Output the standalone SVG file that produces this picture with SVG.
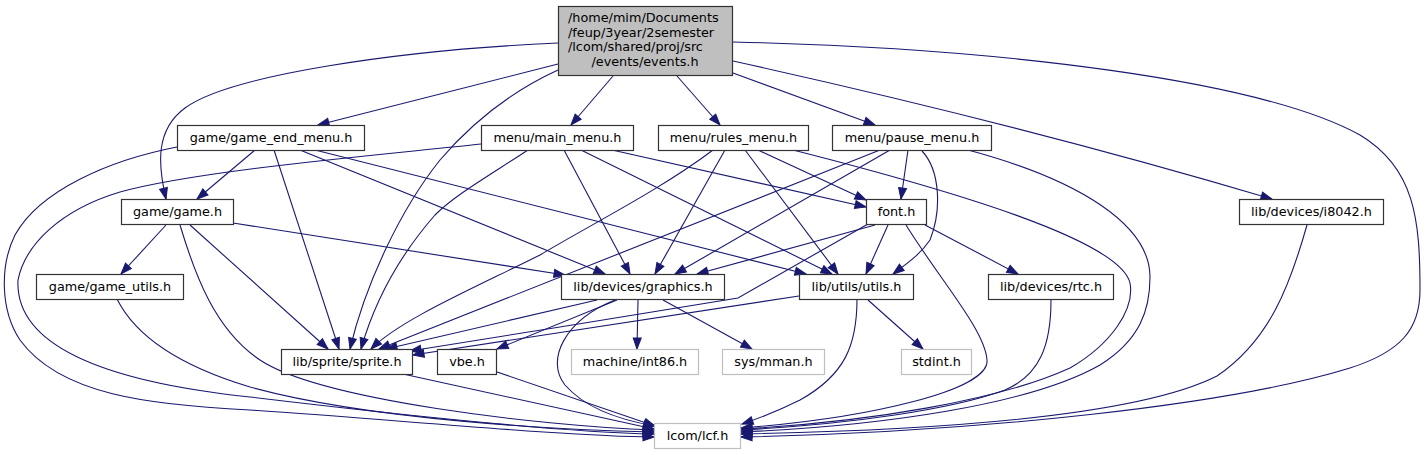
<svg xmlns="http://www.w3.org/2000/svg" width="1425" height="455" viewBox="0 0 1425 455">
<style>
text{font-family:"DejaVu Sans","Liberation Sans",sans-serif;font-size:12.8px;fill:#000;text-anchor:middle}
.n rect{fill:#fff;stroke:#333;stroke-width:1.2}
.m rect{fill:#bfbfbf;stroke:#333;stroke-width:1.2}
.x rect{fill:#fff;stroke:#bfbfbf;stroke-width:1.2}
#edges path{fill:none;stroke:#191970;stroke-width:1.1;marker-end:url(#a)}
</style>
<defs>
<marker id="a" markerUnits="userSpaceOnUse" markerWidth="13" markerHeight="10" viewBox="-1 -1 13 10" refX="11" refY="4" orient="auto">
<path d="M0,0 L11,4 L0,8 Z" fill="#191970" stroke="#191970" stroke-width="1"/>
</marker>
</defs>
<rect width="1425" height="455" fill="#fff"/>
<g id="edges">
<!-- events.h -->
<path d="M558,64 L318,125"/>
<path d="M613,76 L571,125"/>
<path d="M677,76 L720,125"/>
<path d="M733,73 L875,125"/>
<path d="M733,61 C910,100 1090,145 1272,199"/>
<path d="M733,42 C1000,48 1260,80 1360,135 C1415,168 1420,220 1420,290 C1420,330 1400,352 1350,368 C1230,405 980,432 741,437"/>
<path d="M558,43 C400,50 230,75 185,108 C155,130 158,165 166,199"/>
<path d="M558,70 C510,92 470,125 440,160 C400,210 365,285 350,349"/>
<!-- game_end_menu -->
<path d="M177,147 C110,160 40,190 15,235 C0,265 0,310 20,340 C60,395 150,405 250,410 C400,420 560,436 654,437"/>
<path d="M255,150 L197,199"/>
<path d="M274,150 L339,349"/>
<path d="M300,150 L605,274"/>
<path d="M315,150 L806,274"/>
<!-- main_menu -->
<path d="M481,144 C380,155 200,170 120,192 C60,210 25,245 18,280 C15,340 90,380 250,397 C400,415 560,432 654,434"/>
<path d="M528,150 C490,175 455,195 435,215 C400,255 375,300 361,349"/>
<path d="M564,150 L630,274"/>
<path d="M581,150 L832,274"/>
<path d="M612,150 L866,207"/>
<!-- rules_menu -->
<path d="M713,150 C660,190 590,225 540,255 C470,290 400,320 371,349"/>
<path d="M725,150 L655,274"/>
<path d="M745,150 L838,274"/>
<path d="M758,150 L866,200"/>
<path d="M793,150 C950,190 1120,240 1130,283 C1135,310 1110,345 1070,368 C1000,400 870,422 741,429"/>
<!-- pause_menu -->
<path d="M880,150 L379,349"/>
<path d="M890,150 L675,274"/>
<path d="M908,150 L901,199"/>
<path d="M922,151 C940,170 942,210 930,240 C920,255 905,265 893,274"/>
<path d="M968,150 C1080,180 1150,225 1150,277 C1150,310 1140,340 1100,365 C1030,405 880,426 741,432"/>
<!-- game.h -->
<path d="M166,225 L121,274"/>
<path d="M180,225 C195,275 215,330 260,360 C320,400 540,426 654,430"/>
<path d="M190,225 L328,349"/>
<path d="M233,223 L565,275"/>
<!-- game_utils -->
<path d="M117,299 C130,325 160,360 250,387 C370,420 560,430 654,432"/>
<!-- font.h -->
<path d="M875,225 L697,274"/>
<path d="M868,224 L738,298 C700,304 500,337 410,351"/>
<path d="M888,225 L866,274"/>
<path d="M925,225 L1018,274"/>
<path d="M906,225 C940,280 985,330 987,360 C990,390 870,418 741,428"/>
<!-- graphics.h -->
<path d="M597,300 L386,349"/>
<path d="M617,300 L497,349"/>
<path d="M615,300 C565,320 545,360 565,385 C585,408 620,420 655,426"/>
<path d="M638,300 L637,349"/>
<path d="M663,300 L752,349"/>
<!-- utils.h -->
<path d="M799,296 L413,355"/>
<path d="M857,299 C857,345 845,375 800,400 C780,410 760,418 742,424"/>
<path d="M868,300 L923,349"/>
<!-- rtc, i8042 -->
<path d="M1051,300 C1051,345 1040,375 1005,390 C950,410 850,424 741,430"/>
<path d="M1307,225 C1290,285 1270,340 1217,376 C1140,415 950,430 741,434"/>
<!-- sprite, vbe -->
<path d="M403,374 L654,429"/>
<path d="M497,372 L655,426"/>
</g>
<g id="node-events" class="m"><rect x="558.5" y="6.5" width="174" height="69"/>
<text x="568" y="22" style="text-anchor:start">/home/mim/Documents</text>
<text x="568" y="36.5" style="text-anchor:start">/feup/3year/2semester</text>
<text x="568" y="51" style="text-anchor:start">/lcom/shared/proj/src</text>
<text x="645" y="65.5">/events/events.h</text></g>
<g id="node-game_end_menu" class="n"><rect x="177.5" y="125.5" width="187" height="25"/><text x="271" y="142">game/game_end_menu.h</text></g>
<g id="node-main_menu" class="n"><rect x="481.5" y="125.5" width="152" height="25"/><text x="557.5" y="142">menu/main_menu.h</text></g>
<g id="node-rules_menu" class="n"><rect x="658.5" y="125.5" width="150" height="25"/><text x="733.5" y="142">menu/rules_menu.h</text></g>
<g id="node-pause_menu" class="n"><rect x="832.5" y="125.5" width="159" height="25"/><text x="912" y="142">menu/pause_menu.h</text></g>
<g id="node-game" class="n"><rect x="121.5" y="199.5" width="112" height="25"/><text x="177.5" y="216">game/game.h</text></g>
<g id="node-font" class="n"><rect x="866.5" y="199.5" width="60" height="25"/><text x="896.5" y="216">font.h</text></g>
<g id="node-i8042" class="n"><rect x="1239.5" y="199.5" width="144" height="25"/><text x="1311.5" y="216">lib/devices/i8042.h</text></g>
<g id="node-game_utils" class="n"><rect x="36.5" y="274.5" width="147" height="25"/><text x="110" y="291">game/game_utils.h</text></g>
<g id="node-graphics" class="n"><rect x="561.5" y="274.5" width="163" height="25"/><text x="643" y="291">lib/devices/graphics.h</text></g>
<g id="node-utils" class="n"><rect x="799.5" y="274.5" width="114" height="25"/><text x="856.5" y="291">lib/utils/utils.h</text></g>
<g id="node-rtc" class="n"><rect x="988.5" y="274.5" width="125" height="25"/><text x="1051" y="291">lib/devices/rtc.h</text></g>
<g id="node-sprite" class="n"><rect x="281.5" y="349.5" width="131" height="25"/><text x="347" y="366">lib/sprite/sprite.h</text></g>
<g id="node-vbe" class="n"><rect x="437.5" y="349.5" width="59" height="25"/><text x="467" y="366">vbe.h</text></g>
<g id="node-int86" class="x"><rect x="571.5" y="349.5" width="127" height="25"/><text x="635" y="366">machine/int86.h</text></g>
<g id="node-mman" class="x"><rect x="722.5" y="349.5" width="102" height="25"/><text x="773.5" y="366">sys/mman.h</text></g>
<g id="node-stdint" class="x"><rect x="901.5" y="349.5" width="70" height="25"/><text x="936.5" y="366">stdint.h</text></g>
<g id="node-lcf" class="x"><rect x="654.5" y="423.5" width="86" height="25"/><text x="697.5" y="440">lcom/lcf.h</text></g>
</svg>
